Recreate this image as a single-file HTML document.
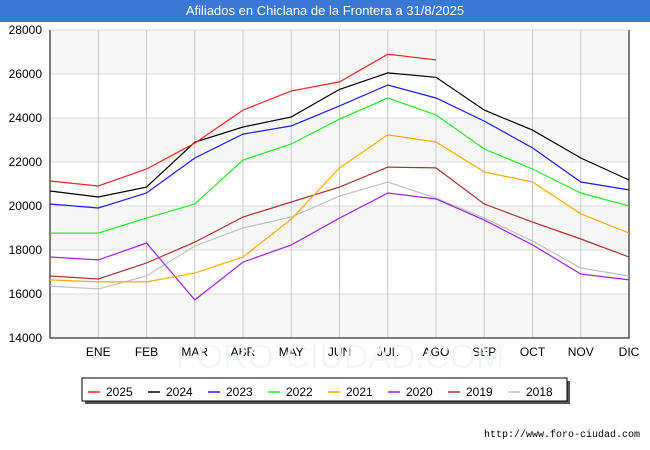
<!DOCTYPE html>
<html><head><meta charset="utf-8"><style>
body{margin:0;background:#fff;font-family:"Liberation Sans",sans-serif}
#wrap{position:relative;width:650px;height:450px}
#title{position:absolute;left:0;top:0;width:650px;height:22px;background:#3a78d8;color:#fff;font-size:13px;line-height:22px;text-align:center}
</style></head><body>
<div id="wrap">
<div id="title">Afiliados en Chiclana de la Frontera a 31/8/2025</div>
<svg id="svg" width="650" height="450" style="position:absolute;left:0;top:0"></svg>
</div>
<script>
const months=["","ENE","FEB","MAR","ABR","MAY","JUN","JUL","AGO","SEP","OCT","NOV","DIC"];
const yTicks=[14000,16000,18000,20000,22000,24000,26000,28000];
const seriesNames=["2025","2024","2023","2022","2021","2020","2019","2018"];
const seriesColors=["#ff2020","#000000","#1a1aff","#22ee22","#ffaa00","#a020f0","#b03030","#c0c0c0"];
const s2025=[21136,20910,21680,22860,24360,25230,25640,26900,26640];
const s2024=[20680,20410,20860,22900,23590,24050,25300,26050,25850,24360,23450,22180,21180];
const s2023=[20090,19910,20590,22180,23270,23640,24550,25500,24910,23860,22640,21090,20730];
const s2022=[18770,18770,19450,20090,22090,22820,23950,24910,24140,22590,21680,20590,20000];
const s2021=[16640,16550,16550,16950,17680,19410,21730,23230,22910,21550,21090,19640,18770];
const s2020=[17680,17550,18320,15730,17450,18230,19450,20590,20320,19360,18230,16910,16640];
const s2019=[16820,16680,17410,18360,19500,20180,20860,21770,21730,20090,19270,18500,17680];
const s2018=[16360,16230,16820,18180,19000,19500,20450,21090,20360,19450,18410,17180,16820];
const allSeries=[s2025,s2024,s2023,s2022,s2021,s2020,s2019,s2018];
const NS="http://www.w3.org/2000/svg";
const svg=document.getElementById('svg');
const X0=50,X1=629,Y0=338,Y1=30;
const xs=i=>X0+i*(X1-X0)/12;
const ys=v=>Y0-(v-14000)*(Y0-Y1)/14000;
function mk(t,a,p){const e=document.createElementNS(NS,t);for(const k in a)e.setAttribute(k,a[k]);(p||svg).appendChild(e);return e;}
for(let i=0;i<yTicks.length-1;i+=2){const r=mk('rect',{x:X0,y:ys(yTicks[i+1]),width:X1-X0,height:ys(yTicks[i])-ys(yTicks[i+1]),fill:'#f7f7f7'});

}
yTicks.forEach(v=>{const l=mk('line',{x1:X0,x2:X1,y1:ys(v),y2:ys(v),stroke:'#dcdcdc'});


const t=mk('text',{x:X0-8,y:ys(v)+4,'text-anchor':'end','font-size':'12',fill:'#000'});t.textContent=v;

});
months.forEach((m,i)=>{if(i>0){const l=mk('line',{x1:xs(i),x2:xs(i),y1:Y1,y2:Y0,stroke:'#c8c8c8'});


const t=mk('text',{x:xs(i),y:356,'text-anchor':'middle','font-size':'12',fill:'#000'});t.textContent=m;

}});
const ax=mk('path',{d:`M${X0},${Y1}V${Y0}H${X1}V${Y1}`,fill:'none',stroke:'#000'});


const wm=mk('text',{x:340,y:368,'text-anchor':'middle','font-size':'34',fill:'#f3f5fa'});wm.textContent='FORO-CIUDAD.COM';


for(let s=allSeries.length-1;s>=0;s--){const d=allSeries[s].map((v,i)=>(i?'L':'M')+xs(i).toFixed(1)+','+ys(v).toFixed(1)).join('');
const p=mk('path',{d,fill:'none',stroke:seriesColors[s],'stroke-width':'1.2'});

}
const sh=mk('rect',{x:85,y:381,width:485,height:23,fill:'#555'});


const lb=mk('rect',{x:82,y:378,width:485,height:23,fill:'#fff',stroke:'#000'});


seriesNames.forEach((n,i)=>{const x=88+i*60;const g=mk('g',{});


mk('line',{x1:x,x2:x+12,y1:392,y2:392,stroke:seriesColors[i],'stroke-width':'1.5'},g);
const t=mk('text',{x:x+18,y:396,'font-size':'12',fill:'#000'},g);t.textContent=n;});
const u=mk('text',{x:640,y:437,'text-anchor':'end','font-size':'10',fill:'#000','font-family':'Liberation Mono, monospace'});u.textContent='http://www.foro-ciudad.com';


</script>
</body></html>
